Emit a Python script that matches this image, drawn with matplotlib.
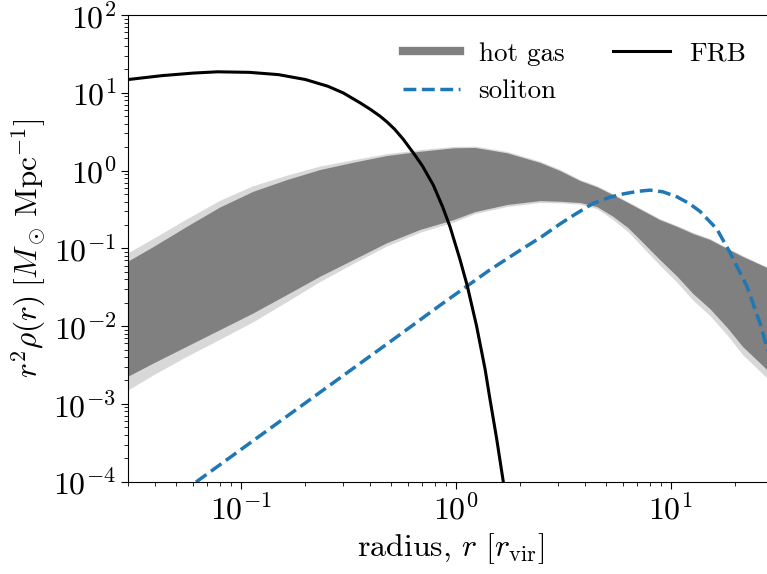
import numpy as np
import matplotlib
matplotlib.use('Agg')
import matplotlib.pyplot as plt

plt.rcParams['font.family'] = 'serif'
plt.rcParams['font.serif'] = ['cmr10']
plt.rcParams['mathtext.fontset'] = 'cm'
plt.rcParams['axes.formatter.use_mathtext'] = True

# hot gas band (ensemble envelope)
gas_r = [0.0299, 0.0393, 0.0561, 0.0801, 0.1143, 0.1638, 0.2335, 0.3339, 0.4773,
         0.6822, 0.975, 1.23, 1.733, 2.466, 3.05, 3.78, 4.53, 5.38, 6.32, 7.42,
         8.89, 10.7, 12.7, 15.2, 18.3, 21.6, 28.0]
gas_hi = [0.0686, 0.106, 0.192, 0.341, 0.542, 0.766, 1.03, 1.28, 1.56,
          1.77, 1.96, 1.98, 1.69, 1.27, 1.0, 0.744, 0.62, 0.49, 0.388, 0.306,
          0.234, 0.191, 0.155, 0.13, 0.0994, 0.0786, 0.0567]
gas_lo = [2.27e-3, 3.37e-3, 5.52e-3, 9.04e-3, 0.0148, 0.0255, 0.0438, 0.0718, 0.118,
          0.175, 0.234, 0.297, 0.366, 0.411, 0.403, 0.388, 0.345, 0.259, 0.185, 0.119,
          0.0718, 0.0438, 0.0262, 0.0168, 9.6e-3, 5.47e-3, 2.77e-3]
# faint outer members of the ensemble
gas_hi_faint = [0.0878, 0.135, 0.24, 0.416, 0.64, 0.873, 1.143, 1.38, 1.65,
                1.86, 2.04, 2.06, 1.76, 1.32, 1.04, 0.77, 0.64, 0.505, 0.40, 0.315,
                0.241, 0.197, 0.16, 0.134, 0.102, 0.081, 0.058]
gas_lo_faint = [1.51e-3, 2.37e-3, 4.09e-3, 6.8e-3, 0.0114, 0.0206, 0.0374, 0.0641, 0.107,
                0.161, 0.217, 0.28, 0.345, 0.388, 0.384, 0.37, 0.325, 0.235, 0.164, 0.103,
                0.0608, 0.0365, 0.0215, 0.0137, 7.7e-3, 4.3e-3, 2.16e-3]

frb_r = [0.03, 0.043, 0.06, 0.078, 0.11, 0.15, 0.2, 0.255, 0.3, 0.36, 0.4, 0.445,
         0.48, 0.52, 0.57, 0.635, 0.70, 0.787, 0.87, 0.941, 1.047, 1.132, 1.25,
         1.37, 1.44, 1.55, 1.665, 1.8]
frb_y = [14.8, 16.6, 17.9, 18.6, 18.3, 17.1, 14.8, 12.1, 9.95, 7.4, 6.15, 5.0,
         4.2, 3.4, 2.53, 1.69, 1.15, 0.65, 0.34, 0.19, 0.072, 0.033, 0.0101,
         2.8e-3, 1.2e-3, 3.6e-4, 1e-4, 2.5e-5]

sol_r = [0.062, 0.2, 0.551, 0.845, 1.44, 2.0, 2.5, 3.05, 3.6, 4.37, 5.2, 6.0,
         7.0, 8.0, 9.2, 10.7, 12.2, 13.7, 16.4, 18.9, 22.6, 26.0, 28.5, 30.0]
sol_y = [9.9e-5, 1.03e-3, 7.8e-3, 0.0185, 0.0527, 0.095, 0.14, 0.205, 0.275, 0.38,
         0.453, 0.50, 0.54, 0.56, 0.533, 0.459, 0.377, 0.298, 0.177, 0.0875,
         0.0326, 0.011, 4.5e-3, 2.5e-3]

fig = plt.figure(figsize=(7.67, 5.74), dpi=100)
ax = fig.add_axes([0.1672, 0.1608, 0.841, 0.8131])

ax.fill_between(gas_r, gas_lo_faint, gas_hi_faint, color='gray', alpha=0.3, lw=0)
ax.fill_between(gas_r, gas_lo, gas_hi, color='gray', lw=0)

ax.plot([], [], color='gray', lw=6, label='hot gas')
ax.plot(sol_r, sol_y, '--', color='#1f77b4', lw=2.5, label='soliton')
ax.plot(frb_r, frb_y, '-', color='black', lw=2.2, label='FRB')

ax.set_xscale('log')
ax.set_yscale('log')
ax.set_xlim(0.03, 30)
ax.set_ylim(1e-4, 1e2)

ax.set_xlabel(r'radius, $r\ [r_{\mathrm{vir}}]$', fontsize=23)
ax.set_ylabel(r'$r^2\rho(r)\;[M_\odot\,\mathrm{Mpc}^{-1}]$', fontsize=22.5)
ax.tick_params(which='both', labelsize=23, direction='out')
ax.tick_params(which='major', length=5)
ax.tick_params(which='minor', length=3)

ax.legend(loc='upper right', ncol=2, frameon=False, fontsize=19.5,
          handlelength=2.1, handletextpad=0.7, columnspacing=1.8,
          bbox_to_anchor=(0.995, 0.995))

fig.savefig('out.png', dpi=100)
